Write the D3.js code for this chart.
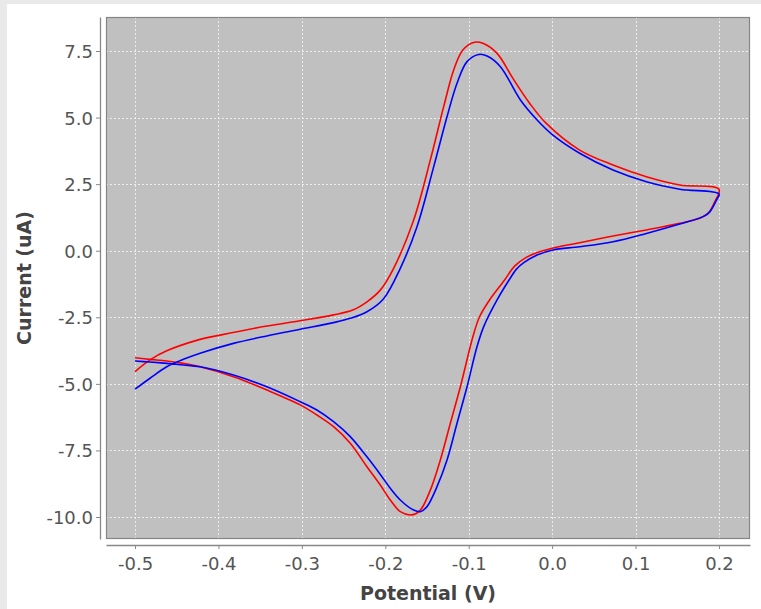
<!DOCTYPE html>
<html>
<head>
<meta charset="utf-8">
<script src="https://cdn.jsdelivr.net/npm/d3@7"></script>
<style>
  html, body { margin: 0; padding: 0; background: #fff; }
  svg { display: block; }
  .tick text { font-family: "DejaVu Sans", sans-serif; font-size: 18px; fill: #555; }
  .axis-title { font-family: "DejaVu Sans", sans-serif; font-size: 19px; font-weight: bold; fill: #444; }
</style>
</head>
<body>
<div id="chart"></div>
<script>
// red sweep (potential V, current uA), forward then reverse
const redPotential = [
  -0.500, -0.482, -0.462, -0.422, -0.398, -0.342, -0.302, -0.262, -0.239, -0.222,
  -0.206, -0.190, -0.166, -0.146, -0.130, -0.118, -0.107, -0.093, -0.083, -0.066,
  -0.047, -0.027, -0.007, 0.033, 0.073, 0.113, 0.153, 0.200,
  0.195, 0.187, 0.177, 0.153, 0.113, 0.073, 0.033, 0.005, -0.015, -0.031,
  -0.045, -0.057, -0.075, -0.087, -0.095, -0.110, -0.122, -0.134, -0.146, -0.158,
  -0.168, -0.182, -0.194, -0.206, -0.222, -0.242, -0.262, -0.282, -0.302, -0.342,
  -0.382, -0.422, -0.442, -0.462, -0.482, -0.500
];
const redCurrent = [
  -4.54, -4.10, -3.76, -3.33, -3.17, -2.83, -2.63, -2.41, -2.23, -1.92,
  -1.48, -0.66, 1.15, 3.41, 5.41, 6.79, 7.54, 7.83, 7.79, 7.41,
  6.47, 5.54, 4.78, 3.78, 3.22, 2.78, 2.47, 2.31,
  1.84, 1.40, 1.22, 1.03, 0.78, 0.55, 0.30, 0.13, -0.04, -0.25,
  -0.58, -1.10, -1.85, -2.48, -3.23, -5.11, -6.48, -7.86, -8.99, -9.74,
  -9.92, -9.80, -9.36, -8.80, -8.11, -7.23, -6.61, -6.17, -5.79, -5.23,
  -4.73, -4.36, -4.23, -4.14, -4.08, -4.02
];

// blue sweep
const bluePotential = [
  -0.500, -0.482, -0.462, -0.442, -0.422, -0.382, -0.342, -0.302, -0.262, -0.242,
  -0.222, -0.202, -0.182, -0.162, -0.142, -0.126, -0.114, -0.102, -0.088, -0.078,
  -0.062, -0.038, -0.018, 0.001, 0.033, 0.073, 0.113, 0.153, 0.200,
  0.197, 0.189, 0.181, 0.153, 0.113, 0.073, 0.033, 0.001, -0.018, -0.034,
  -0.043, -0.052, -0.066, -0.082, -0.090, -0.102, -0.114, -0.126, -0.138, -0.150,
  -0.158, -0.166, -0.182, -0.194, -0.206, -0.222, -0.242, -0.262, -0.282, -0.302,
  -0.342, -0.382, -0.422, -0.442, -0.462, -0.482, -0.500
];
const blueCurrent = [
  -5.20, -4.79, -4.36, -4.08, -3.85, -3.48, -3.20, -2.95, -2.70, -2.54,
  -2.29, -1.80, -0.66, 0.90, 3.15, 5.03, 6.29, 7.10, 7.37, 7.31,
  6.91, 5.66, 4.91, 4.34, 3.66, 3.03, 2.59, 2.31, 2.13,
  1.90, 1.46, 1.28, 1.00, 0.65, 0.34, 0.15, 0.03, -0.16, -0.45,
  -0.70, -1.12, -1.85, -2.85, -3.60, -5.11, -6.48, -7.86, -8.86, -9.61,
  -9.80, -9.74, -9.36, -8.92, -8.40, -7.74, -6.98, -6.42, -5.98, -5.67,
  -5.11, -4.67, -4.36, -4.29, -4.23, -4.18, -4.14
];

const xTicks = [-0.5, -0.4, -0.3, -0.2, -0.1, 0.0, 0.1, 0.2];
const yTicks = [-10.0, -7.5, -5.0, -2.5, 0.0, 2.5, 5.0, 7.5];

const W = 761, H = 609;
const plot = {left: 106, right: 750, top: 17, bottom: 539};

const svg = d3.select('#chart').append('svg')
  .attr('width', W).attr('height', H);

// outer frame
svg.append('rect').attr('width', W).attr('height', H).attr('fill', '#e9e9e9');
svg.append('rect').attr('x', 7).attr('y', 4).attr('width', W - 7).attr('height', H - 4).attr('fill', '#fff');

const x = d3.scaleLinear().domain([-0.5348, 0.2372]).range([plot.left, plot.right]);
const y = d3.scaleLinear().domain([-10.826, 8.777]).range([plot.bottom, plot.top]);

svg.append('defs').append('clipPath').attr('id', 'clip')
  .append('rect')
  .attr('x', plot.left).attr('y', plot.top)
  .attr('width', plot.right - plot.left).attr('height', plot.bottom - plot.top);

svg.append('rect')
  .attr('x', plot.left).attr('y', plot.top)
  .attr('width', plot.right - plot.left).attr('height', plot.bottom - plot.top)
  .attr('fill', '#c0c0c0');

// grid
const grid = svg.append('g').attr('clip-path', 'url(#clip)');
grid.selectAll('line.v').data(xTicks).join('line')
  .attr('class', 'v')
  .attr('x1', d => Math.round(x(d)) + 0.5).attr('x2', d => Math.round(x(d)) + 0.5)
  .attr('y1', plot.top).attr('y2', plot.bottom);
grid.selectAll('line.h').data(yTicks).join('line')
  .attr('class', 'h')
  .attr('y1', d => Math.round(y(d)) + 0.5).attr('y2', d => Math.round(y(d)) + 0.5)
  .attr('x1', plot.left).attr('x2', plot.right);
grid.selectAll('line')
  .attr('stroke', '#eeeeee').attr('stroke-width', 1).attr('stroke-dasharray', '2,2');

// curves
const line = d3.line()
  .x(d => x(d[0])).y(d => y(d[1]))
  .curve(d3.curveCatmullRom.alpha(0.5));

const series = [
  {pts: d3.zip(redPotential, redCurrent), color: '#ff0000'},
  {pts: d3.zip(bluePotential, blueCurrent), color: '#0000ff'}
];

svg.append('g').attr('clip-path', 'url(#clip)')
  .selectAll('path').data(series).join('path')
  .attr('d', d => line(d.pts))
  .attr('fill', 'none')
  .attr('stroke', d => d.color)
  .attr('stroke-width', 1.6)
  .attr('stroke-linejoin', 'round');

// plot border
svg.append('rect')
  .attr('x', plot.left + 0.5).attr('y', plot.top + 0.5)
  .attr('width', plot.right - plot.left - 1).attr('height', plot.bottom - plot.top - 1)
  .attr('fill', 'none').attr('stroke', '#858585').attr('stroke-width', 1.2);

// axes, hyphen minus like the original
const fmt = d => d.toFixed(1);
const xAxis = d3.axisBottom(x).tickValues(xTicks).tickSize(4).tickSizeOuter(0).tickFormat(fmt);
const yAxis = d3.axisLeft(y).tickValues(yTicks).tickSize(4).tickSizeOuter(0).tickFormat(fmt);

const gx = svg.append('g').attr('transform', `translate(0,${plot.bottom + 6})`).call(xAxis);
const gy = svg.append('g').attr('transform', `translate(${plot.left - 6},0)`).call(yAxis);

[gx, gy].forEach(g => {
  g.select('.domain').attr('stroke', '#888').attr('stroke-width', 1.3);
  g.selectAll('.tick line').attr('stroke', '#888');
});
gx.selectAll('.tick text').attr('dy', '1.05em').attr('y', 6);
gy.selectAll('.tick text').attr('x', -7).attr('dy', '0.36em');

svg.append('text').attr('class', 'axis-title')
  .attr('x', (plot.left + plot.right) / 2).attr('y', 600)
  .attr('text-anchor', 'middle')
  .text('Potential (V)');

svg.append('text').attr('class', 'axis-title')
  .attr('transform', `translate(31,${(plot.top + plot.bottom) / 2}) rotate(-90)`)
  .attr('text-anchor', 'middle')
  .text('Current (uA)');
</script>
</body>
</html>
